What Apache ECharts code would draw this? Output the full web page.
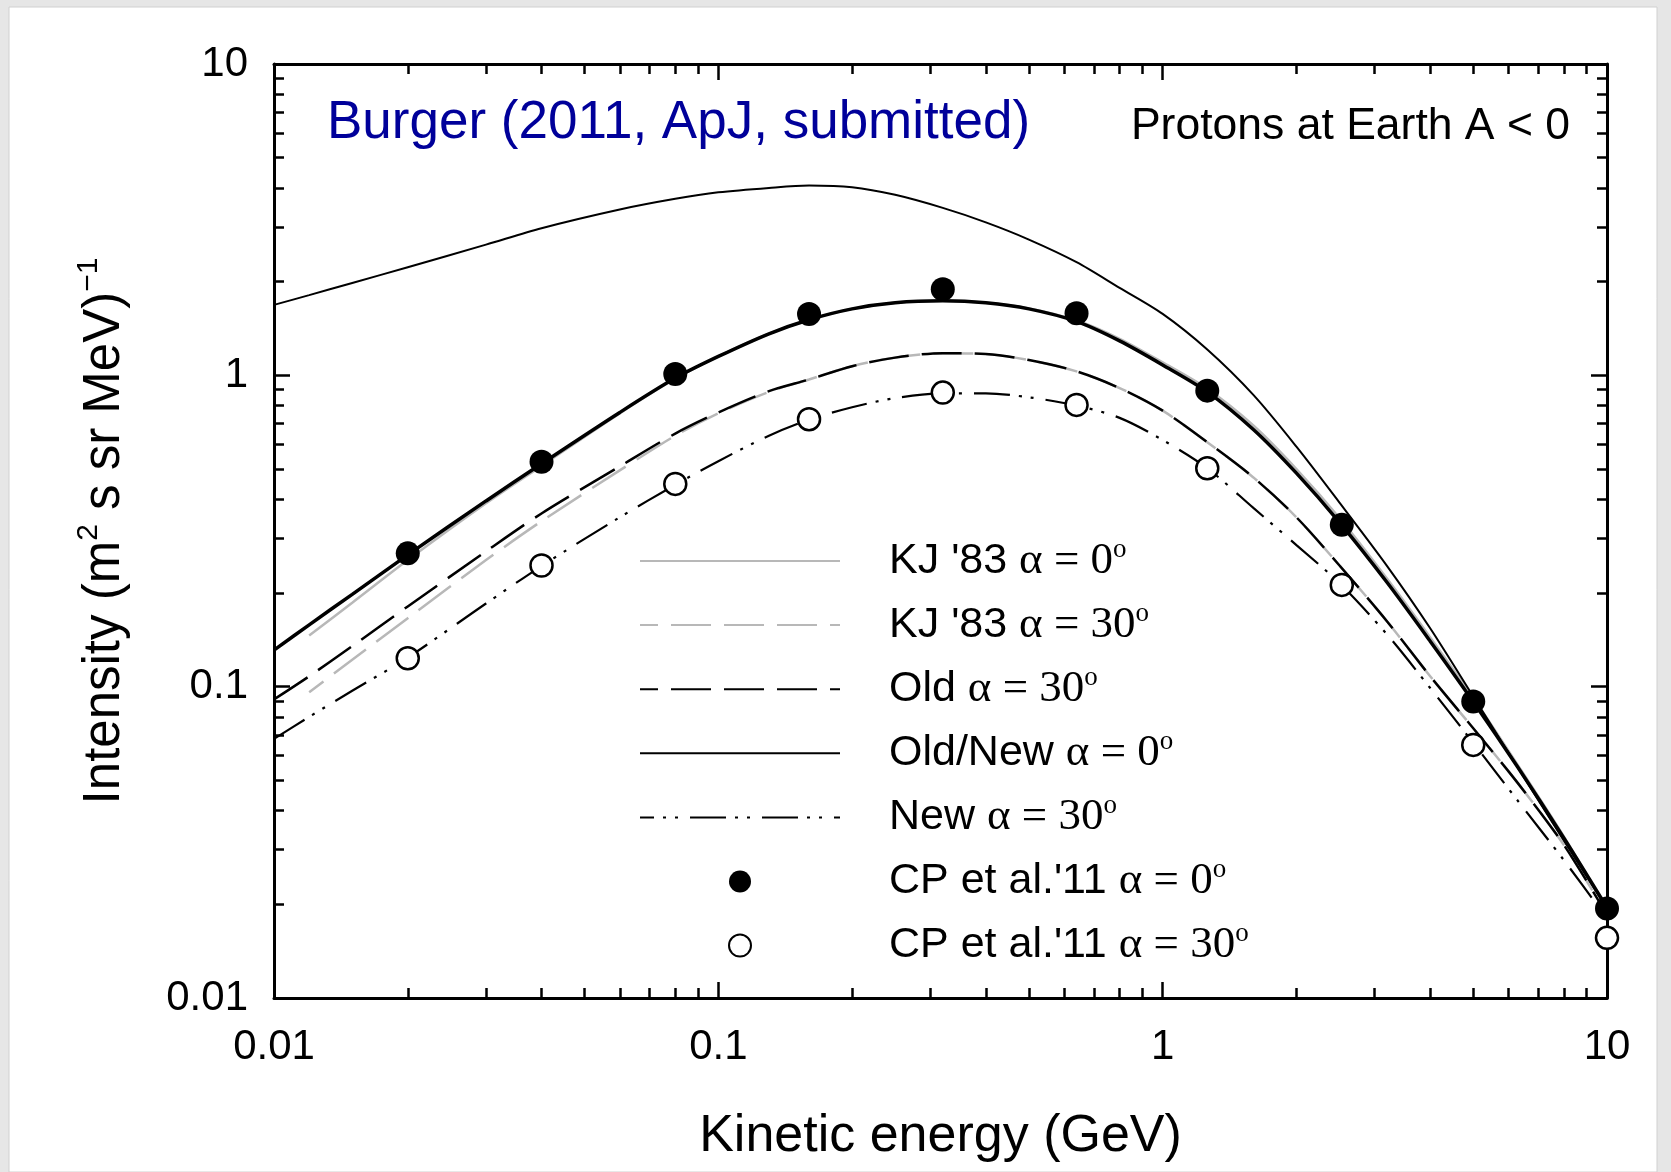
<!DOCTYPE html>
<html>
<head>
<meta charset="utf-8">
<script src="https://cdn.jsdelivr.net/npm/echarts@6/dist/echarts.min.js"></script>
<style>
html,body{margin:0;padding:0;background:#fff;}
#c{width:1671px;height:1172px;}
</style>
</head>
<body>
<div id="c"></div>
<script>
// ---------- data ----------
const energy = [0.01,0.012,0.015,0.02,0.03,0.04,0.06,0.08,0.1,0.13,0.16,0.2,0.25,0.32,0.4,0.5,0.64,0.8,1,1.26,1.6,2,2.5,3.2,4,5,6.3,8,10];
const upperCurve = [1.684,1.81,1.98,2.225,2.63,2.969,3.41,3.69,3.87,4.00,4.07,4.02,3.80,3.45,3.10,2.73,2.31,1.91,1.575,1.21,0.865,0.59,0.39,0.244,0.154,0.093,0.055,0.032,0.0194];
const kj83Alpha0 = [null,0.146,0.186,0.255,0.388,0.512,0.755,0.975,1.15,1.36,1.509,1.635,1.71,1.735,1.71,1.64,1.50,1.31,1.10,0.905,0.69,0.50,0.348,0.222,0.144,0.092,0.056,0.033,0.0193];
const kj83Alpha30 = [null,0.096,0.122,0.166,0.255,0.34,0.495,0.64,0.755,0.885,0.97,1.07,1.14,1.178,1.17,1.12,1.03,0.91,0.77,0.61,0.47,0.35,0.245,0.162,0.108,0.0735,0.049,0.031,0.0185];
const oldAlpha30 = [0.091,0.108,0.135,0.181,0.272,0.36,0.51,0.65,0.76,0.89,0.97,1.07,1.14,1.178,1.17,1.12,1.03,0.91,0.77,0.61,0.47,0.35,0.245,0.162,0.108,0.0735,0.049,0.031,0.0185];
const oldNewAlpha0 = [0.131,0.158,0.198,0.265,0.395,0.52,0.76,0.98,1.15,1.36,1.509,1.635,1.71,1.735,1.71,1.635,1.49,1.29,1.08,0.885,0.67,0.485,0.337,0.216,0.14,0.0895,0.0551,0.0326,0.0195];
const newAlpha30 = [0.068,0.080,0.097,0.124,0.185,0.244,0.35,0.445,0.53,0.64,0.72,0.79,0.845,0.875,0.875,0.85,0.80,0.73,0.62,0.503,0.375,0.285,0.215,0.147,0.099,0.066,0.043,0.0277,0.018];

const cpEnergy = [0.02,0.04,0.08,0.16,0.32,0.64,1.26,2.53,5,10];
const cpAlpha0 = [0.268,0.528,1.01,1.575,1.891,1.583,0.893,0.331,0.0896,0.0194];
const cpAlpha30 = [0.1234,0.245,0.448,0.7228,0.880,0.8035,0.503,0.2122,0.065,0.0156];

const minorTicks = [0.02,0.03,0.04,0.05,0.06,0.07,0.08,0.09,0.2,0.3,0.4,0.5,0.6,0.7,0.8,0.9,2,3,4,5,6,7,8,9];
const tickLabels = {'0.01':'0.01','0.1':'0.1','1':'1','10':'10'};

const names = {
  kj0: "KJ '83 α = 0°",
  kj30: "KJ '83 α = 30°",
  old30: "Old α = 30°",
  on0: "Old/New α = 0°",
  new30: "New α = 30°",
  cp0: "CP et al.'11 α = 0°",
  cp30: "CP et al.'11 α = 30°"
};
const legendRich = {};
legendRich[names.kj0] = "{s| }{a|KJ '83 }{b|α = 0}{c|o}";
legendRich[names.kj30] = "{s| }{a|KJ '83 }{b|α = 30}{c|o}";
legendRich[names.old30] = "{s| }{a|Old }{b|α = 30}{c|o}";
legendRich[names.on0] = "{s| }{a|Old/New }{b|α = 0}{c|o}";
legendRich[names.new30] = "{s| }{a|New }{b|α = 30}{c|o}";
legendRich[names.cp0] = "{s| }{a|CP et al.'11 }{b|α = 0}{c|o}";
legendRich[names.cp30] = "{s| }{a|CP et al.'11 }{b|α = 30}{c|o}";

// ---------- helpers ----------
function pairs(xs, ys) {
  const out = [];
  for (let i = 0; i < xs.length; i++) { if (ys[i] != null) out.push([xs[i], ys[i]]); }
  return out;
}
const minorLog = minorTicks.map(v => Math.log10(v));
function fmtTick(v) {
  const p = Math.round(Math.log10(v));
  const key = String(p >= 0 ? Math.pow(10, p) : Number(Math.pow(10, p).toFixed(-p)));
  return tickLabels[key] !== undefined ? tickLabels[key] : key;
}
const SANS = 'Liberation Sans, Arial, sans-serif';
const SERIF = 'Liberation Serif, Times New Roman, serif';
const AX = '#000';

function majorAxis(pos, withLabels) {
  return {
    type: 'log', logBase: 10, min: 0.01, max: 10, position: pos,
    axisLine: { show: true, onZero: false, lineStyle: { color: AX, width: 3 } },
    axisTick: { show: true, inside: true, length: 16, lineStyle: { color: AX, width: 2.5 } },
    axisLabel: { show: withLabels, margin: 28, fontSize: 42, fontFamily: SANS, color: AX, formatter: fmtTick },
    splitLine: { show: false }, minorTick: { show: false }
  };
}
function minorAxis(pos) {
  return {
    type: 'value', min: -2, max: 1, position: pos,
    axisLine: { show: false, onZero: false },
    axisTick: { show: true, inside: true, length: 10, customValues: minorLog, lineStyle: { color: AX, width: 2.5 } },
    axisLabel: { show: false },
    splitLine: { show: false }
  };
}

const xMain = majorAxis('bottom', true);
xMain.name = 'Kinetic energy (GeV)';
xMain.nameLocation = 'middle';
xMain.nameGap = 113;
xMain.nameTextStyle = { fontSize: 52, fontFamily: SANS, color: AX };

const yMain = majorAxis('left', true);
yMain.axisLabel.margin = 26;
yMain.name = '{t|Intensity (m}{s|2}{t| s sr MeV)}{s|−1}';
yMain.nameLocation = 'middle';
yMain.nameGap = 138;
yMain.nameTextStyle = {
  color: AX,
  rich: {
    t: { fontSize: 51, fontFamily: SANS, color: AX, lineHeight: 62 },
    s: { fontSize: 30, fontFamily: SANS, color: AX, lineHeight: 34, verticalAlign: 'top' }
  }
};

const chart = echarts.init(document.getElementById('c'), null, { renderer: 'canvas' });
const option = {
  animation: false,
  backgroundColor: '#ffffff',
  graphic: [
    { type: 'rect', silent: true, z: -20, shape: { x: 0, y: 0, width: 1671, height: 1172 }, style: { fill: '#e6e6e6' } },
    { type: 'rect', silent: true, z: -19, shape: { x: 9, y: 7, width: 1648, height: 1165 }, style: { fill: '#ffffff', stroke: '#d0d0d0', lineWidth: 1 } }
  ],
  title: [
    { text: 'Burger (2011, ApJ, submitted)', left: 327, top: 97, padding: 0,
      textStyle: { fontSize: 53, fontFamily: SANS, fontWeight: 'normal', color: '#00009a' } },
    { text: 'Protons at Earth A < 0', right: 101, top: 104, padding: 0,
      textStyle: { fontSize: 44.5, fontFamily: SANS, fontWeight: 'normal', color: '#000' } }
  ],
  grid: { left: 274, right: 64, top: 64, bottom: 174, containLabel: false },
  xAxis: [ xMain, minorAxis('bottom'), majorAxis('top', false), minorAxis('top') ],
  yAxis: [ yMain, minorAxis('left'), majorAxis('right', false), minorAxis('right') ],
  legend: {
    orient: 'vertical', left: 639, top: 536, padding: 0,
    itemWidth: 200, itemHeight: 22, itemGap: 16.6,
    selectedMode: false,
    data: [
      { name: names.kj0, itemStyle: { opacity: 0 } },
      { name: names.kj30, itemStyle: { opacity: 0 } },
      { name: names.old30, itemStyle: { opacity: 0 } },
      { name: names.on0, itemStyle: { opacity: 0 } },
      { name: names.new30, itemStyle: { opacity: 0 } },
      { name: names.cp0 },
      { name: names.cp30 }
    ],
    formatter: n => legendRich[n] || n,
    textStyle: {
      color: '#000',
      rich: {
        s: { width: 44, fontSize: 20, lineHeight: 50 },
        a: { fontSize: 43, fontFamily: SANS, color: '#000', lineHeight: 50 },
        b: { fontSize: 45, fontFamily: SERIF, color: '#000', lineHeight: 50 },
        c: { fontSize: 27, fontFamily: SERIF, color: '#000', lineHeight: 24, verticalAlign: 'top' }
      }
    }
  },
  series: [
    { name: 'upper', type: 'line', data: pairs(energy, upperCurve), symbol: 'none', smooth: 0.3,
      lineStyle: { color: '#000', width: 2 }, z: 2, silent: true },
    { name: names.kj0, type: 'line', data: pairs(energy, kj83Alpha0), symbol: 'none', smooth: 0.3,
      lineStyle: { color: '#b8b8b8', width: 2.5 }, z: 1, silent: true },
    { name: names.kj30, type: 'line', data: pairs(energy, kj83Alpha30), symbol: 'none', smooth: 0.3,
      lineStyle: { color: '#b8b8b8', width: 2.5, type: [40, 13], dashOffset: 22 }, z: 1, silent: true },
    { name: names.old30, type: 'line', data: pairs(energy, oldAlpha30), symbol: 'none', smooth: 0.3,
      lineStyle: { color: '#000', width: 2.5, type: [40, 13] }, z: 2, silent: true },
    { name: names.on0, type: 'line', data: pairs(energy, oldNewAlpha0), symbol: 'none', smooth: 0.3,
      lineStyle: { color: '#000', width: 3.5 }, z: 2, silent: true },
    { name: names.new30, type: 'line', data: pairs(energy, newAlpha30), symbol: 'none', smooth: 0.3,
      lineStyle: { color: '#000', width: 2.2, type: [36, 9, 3, 9, 3, 12] }, z: 2, silent: true },
    { name: names.cp0, type: 'scatter', data: pairs(cpEnergy, cpAlpha0), symbol: 'circle', symbolSize: 24,
      itemStyle: { color: '#000', opacity: 1 }, z: 5, silent: true },
    { name: names.cp30, type: 'scatter', data: pairs(cpEnergy, cpAlpha30), symbol: 'circle', symbolSize: 22,
      itemStyle: { color: '#fff', borderColor: '#000', borderWidth: 2.5, opacity: 1 }, z: 5, silent: true }
  ]
};
chart.setOption(option);
</script>
</body>
</html>
